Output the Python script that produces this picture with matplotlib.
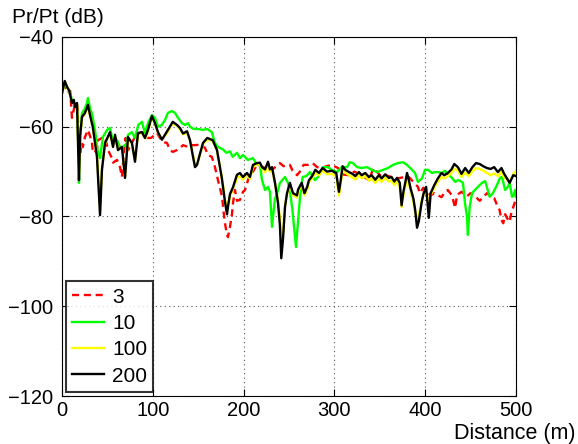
import matplotlib
matplotlib.use("Agg")
import matplotlib.pyplot as plt

plt.rcParams['font.family'] = ['Liberation Sans', 'DejaVu Sans']

# received power ratio vs distance, one curve per setting
dist_3 = [0, 3, 6, 9, 11, 14.3, 16.5, 19, 20, 22, 23, 25.3, 28.6, 33, 34, 38.5, 39.6,
          44, 47.4, 50.7, 55, 56.2, 60.6, 63.9, 66, 68, 70, 72.7, 76, 81, 86, 89, 94.7,
          98, 104.6, 108, 111, 115.6, 119, 122, 126.6, 130, 133.3, 138.8, 143, 146.5,
          152, 157.5, 160.8, 165, 168.5, 171.8, 176.2, 178, 179.5, 181.7, 182.8, 185,
          187.2, 188.3, 190.5, 192.7, 196, 199.3, 201.5, 204.8, 208, 210.3, 214.7, 218,
          221.4, 226, 229, 231.3, 236, 240, 244, 247.8, 251, 254, 258.8, 262, 266, 271,
          276, 281, 286, 291, 297, 304, 308, 316, 322, 330, 338, 343, 349, 352, 356,
          363, 370, 377, 382, 388, 392, 394, 398, 402, 406, 410, 418, 421.8, 425, 429,
          431, 433, 435, 440, 446, 450, 455, 460, 464, 468, 472, 476, 479, 482, 484,
          486, 488, 490, 493, 495, 497, 500]
pr_3 = [-52.5, -50, -52.5, -52, -58, -55, -54.7, -63.6, -65.8, -63.6, -64.5, -62.3, -60.7,
        -63.4, -65.8, -65.2, -63, -62.5, -62.3, -65.2, -67, -68, -67.4, -69, -71.2, -66,
        -62.5, -65.2, -64, -62, -61.4, -61.2, -62.5, -62.5, -61.4, -62.5, -63.4, -63.6,
        -65.2, -65.6, -65.2, -64.7, -64.1, -64.5, -64.1, -64.1, -64, -64.7, -66.3, -66.7,
        -69, -71.9, -75.5, -79, -81.5, -84.1, -84.6, -82.3, -79.5, -77, -74.1, -76.5,
        -76.3, -74.5, -74.1, -71.9, -70.3, -70, -68.5, -68.8, -69, -69.6, -69.4, -69.6,
        -68.8, -68.1, -68.8, -68.5, -68.5, -69.8, -70.8, -70, -68.5, -68.5, -68.1, -69,
        -69.2, -68.8, -68.5, -69.2, -70.6, -70.8, -70, -70.8, -71.9, -69.2, -70.5, -71.2,
        -70.8, -71.2, -71.5, -71.2, -71.2, -72.5, -73.4, -74.8, -73.6, -74.5, -75.3,
        -74.8, -75.7, -74.5, -74.1, -75.2, -76.5, -78.1, -75.2, -74.5, -75.5, -74.8,
        -75.5, -76.5, -75.7, -74.8, -75.5, -75.9, -77.4, -78.6, -80.8, -81.5, -79.5,
        -80.3, -81.2, -79, -77.9, -76]

dist_10 = [0, 3, 5.5, 8, 11, 14, 16.5, 18, 18.7, 20, 22, 25, 27.5, 28.6, 31, 33, 36.3,
           39.6, 41.9, 45, 49.6, 52.9, 56.2, 60.6, 63.9, 67.2, 71.6, 72.7, 77, 80.4, 84,
           88, 91.4, 94.7, 99, 102.4, 105.7, 110, 113.4, 116.7, 121, 124.4, 127.7, 132.2,
           135.5, 138.8, 141, 145, 150, 155, 160, 165, 168.5, 171.8, 177, 181, 185, 188,
           192.7, 196, 199.3, 204.8, 210.3, 214.7, 218, 220.3, 223.6, 226.9, 229, 231.3,
           232.4, 234.6, 236.8, 240, 245.6, 248.9, 251, 253.5, 256.6, 257.7, 260, 262,
           265, 269, 273, 278.6, 282, 287.4, 293, 297, 303, 308, 314, 317, 320.5, 325,
           330, 336, 341, 347, 353.5, 359, 364.5, 370, 375.5, 380, 385.5, 388.8, 392,
           396.5, 399.8, 403, 407.5, 410.8, 414, 418.5, 421.8, 425, 429.5, 433, 436,
           438, 441.6, 443.8, 446, 447, 449, 451.5, 454.8, 458, 462.6, 466, 468, 471,
           474.6, 479, 482.4, 484.6, 488, 491, 493, 495.6, 497, 499, 500]
pr_10 = [-52.5, -50, -51, -52, -54, -55, -55, -64, -72.5, -62, -57, -56, -54.7, -53.6,
         -56, -57, -60.7, -65.8, -67, -62.3, -60.7, -60.3, -63.4, -63, -64.5, -64.5,
         -63.6, -61.8, -61.2, -62.5, -59.6, -58.9, -61.4, -59.2, -57.4, -58, -60, -59.6,
         -58.5, -56.9, -56.5, -56.9, -58, -59.2, -59.6, -59.2, -60, -60.5, -60.5, -60.7,
         -60.5, -61.2, -63.6, -64.5, -65, -65.8, -65.5, -66.7, -65.8, -67, -66.3, -67.4,
         -67, -68.5, -68.5, -71.9, -74.1, -73.4, -74.5, -82.3, -80, -76, -75, -72.5,
         -71.2, -72.5, -74.5, -78, -84.6, -86.8, -81, -76, -71.2, -71, -70.1, -71.9,
         -71.2, -69, -69, -69.6, -70.1, -69, -69, -67.9, -68.1, -69, -69.2, -69, -69.6,
         -70.1, -69.6, -69.2, -68.5, -68.1, -67.9, -68.5, -69.6, -70.3, -72.3, -71.5,
         -69.6, -69.6, -70.3, -70.1, -70.1, -70.3, -69.8, -70.5, -71.4, -72.3, -71.9,
         -72, -72.5, -77, -80, -84.1, -77.9, -74.8, -74.1, -73.4, -72.5, -72.1, -73.5,
         -75.6, -74.8, -73, -71.4, -71.2, -74.1, -73.4, -72.5, -75.6, -75.5, -74.1,
         -75.6]

dist_100 = [0, 3, 5.5, 8, 11, 13, 14.3, 16.5, 18.7, 20, 22, 25, 27.5, 28.6, 31, 34,
            38.5, 41.9, 44, 47.4, 52.9, 56.2, 58.4, 61.7, 66, 69.4, 72.7, 77, 80.4,
            83.7, 88, 91.4, 94.7, 99, 102.4, 105.7, 110, 113.4, 116.7, 122, 126.6, 130,
            133.3, 137.7, 141, 144.3, 146.5, 148.7, 152, 155.3, 160, 166, 170.7, 176,
            179.5, 181.7, 183, 185, 188.3, 192.7, 196, 199.3, 203.7, 207, 210.3, 214.7,
            218, 220.3, 223.6, 226.9, 229, 231.3, 234.6, 237.9, 240, 241.5, 243.4, 245.6,
            247.8, 251, 254.4, 258.8, 260, 264, 267, 270, 272, 275.5, 279, 283, 287, 292,
            297, 302, 303.6, 305, 307, 309, 312, 316, 320, 323, 327, 330, 334, 338, 341,
            345, 349, 352, 356, 360, 363, 366, 369, 372, 374, 376, 378, 380, 382, 384,
            387, 389, 391, 393, 396, 398, 401, 404, 406, 410, 414, 418, 421, 425, 429,
            432, 436, 440, 444, 448, 452, 456, 460, 464, 468, 472, 476, 480, 484, 487,
            490, 493, 497, 500]
pr_100 = [-52.5, -49.9, -51.2, -52.2, -54.5, -54.2, -55.4, -55, -70.5, -62.3, -58,
          -57.2, -56, -55.4, -57.6, -60.3, -66.3, -78.5, -69.2, -63.8, -61.4, -64.3,
          -62, -65, -64.6, -71, -62.5, -63.8, -67.4, -61.6, -61.4, -62.6, -60.9, -57.9,
          -59.4, -61.4, -62.7, -62, -61, -59.2, -59.8, -60.6, -61.7, -61.3, -63.2, -66.4,
          -68.6, -68.3, -66.2, -63.9, -62.8, -63.2, -65.4, -71.2, -76.2, -78.3, -77.8,
          -75.6, -73.8, -71.5, -70.9, -71.8, -70.6, -71.6, -69, -68.4, -68.4, -69.3,
          -70.2, -68.3, -70, -69.5, -72.8, -76.5, -80.5, -85.5, -83.8, -77.5, -75, -73,
          -75.2, -75.8, -74.5, -72.8, -75.3, -74, -72.3, -71.5, -70.2, -70.8, -69.8,
          -70.6, -70.5, -71, -73.5, -75.3, -72.6, -69.5, -70.2, -70.8, -71.3, -71.8,
          -70.8, -71.5, -71, -72, -71.6, -72.5, -71.6, -72.3, -71.3, -72.2, -72, -73,
          -72.2, -73.4, -77.9, -75.2, -73.3, -71.2, -72.6, -74.5, -76.8, -79.2, -80.6,
          -79.8, -76.5, -75.3, -73.8, -78, -75.2, -73.6, -72.2, -71.2, -71.5, -71, -70.3,
          -69.3, -69.8, -71.2, -70.2, -71, -69.9, -69.2, -69.4, -69.8, -70.3, -70.8,
          -70.4, -71, -70, -71.4, -71.8, -72.4, -70.5, -69.8]

dist_200 = dist_100
pr_200 = [-52.5, -49.8, -51.1, -52, -54.7, -54, -55.6, -54.7, -71.9, -62, -57.8, -57,
          -55.8, -55.1, -57.5, -60.1, -66.7, -79.7, -69.6, -63.6, -61.2, -64.5, -61.8,
          -65.2, -64.5, -71.4, -62.3, -63.6, -67.8, -61.4, -61.2, -62.5, -60.7, -57.6,
          -59.2, -61.2, -62.9, -61.8, -60.7, -58.9, -59.6, -60.3, -61.5, -61, -63, -66.7,
          -69, -68.5, -66, -63.6, -62.5, -63, -65.2, -71.4, -76.7, -79.5, -77.5, -75,
          -73.5, -70.7, -70.3, -71.2, -70.3, -71.2, -68.5, -68.1, -68, -69, -69.5, -67.8,
          -69.5, -69, -72.5, -77, -82, -89.3, -85, -77.9, -74.8, -72.5, -74.8, -75.3,
          -74, -72.5, -74.8, -73.4, -71.9, -71, -69.6, -70.3, -69.2, -70, -69.8, -70.3,
          -72.5, -74.5, -71.9, -68.8, -69.6, -70.1, -70.5, -71, -70.1, -70.8, -70.3,
          -71.2, -70.8, -71.8, -70.8, -71.5, -70.6, -71.4, -71.2, -72.2, -71.4, -72.5,
          -77.5, -74.5, -72.5, -70.3, -71.9, -73.8, -76, -78.6, -82.5, -81, -77, -75,
          -73.4, -80.3, -74.8, -73, -71.5, -70.3, -70.8, -70.3, -69.5, -68.3, -69, -70.5,
          -69.2, -70.3, -69, -68.1, -68.3, -68.8, -69.2, -69.4, -69, -70.1, -69.2, -70.5,
          -71.5, -72.5, -70.8, -71]

labels = ['3', '10', '100', '200']

fig = plt.figure(figsize=(5.78, 4.44), dpi=100)
ax = fig.add_axes([62 / 578, 48 / 444, 454 / 578, 359 / 444])

lw = 1.7
ax.plot(dist_3, pr_3, color='#ff0000', linestyle=(0, (3, 2)), linewidth=lw, label=labels[0])
ax.plot(dist_10, pr_10, color='#00ff00', linewidth=lw, label=labels[1])
ax.plot(dist_100, pr_100, color='#ffff00', linewidth=lw, label=labels[2])
ax.plot(dist_200, pr_200, color='black', linewidth=lw, label=labels[3])

ax.set_xlim(0, 500)
ax.set_ylim(-120, -40)
ax.set_xticks(range(0, 501, 100))
ax.set_yticks(range(-120, -39, 20))
ax.set_yticklabels(['\u2212%d' % abs(v) for v in range(-120, -39, 20)])
ax.tick_params(direction='in', length=5, width=0.8, labelsize=14.5,
               top=True, right=True)
ax.tick_params(axis='x', pad=3.5)
ax.tick_params(axis='y', pad=6.5)
ax.grid(True, linestyle=(0, (1, 3)), color='#555555', linewidth=0.8)
for sp in ax.spines.values():
    sp.set_linewidth(0.8)

fig.text(12 / 578, 0.94, 'Pr/Pt (dB)', fontsize=15, ha='left', va='bottom')
fig.text(0.995, 0.0, 'Distance (m)', fontsize=15.5, ha='right', va='bottom')

leg = ax.legend(loc='lower left', fontsize=15, frameon=True, fancybox=False,
                handlelength=1.5, handletextpad=0.4, borderpad=0.3, labelspacing=0.35,
                borderaxespad=0.2)
leg.get_frame().set_edgecolor('black')
leg.get_frame().set_linewidth(1.5)

fig.savefig('out.png', dpi=100)
